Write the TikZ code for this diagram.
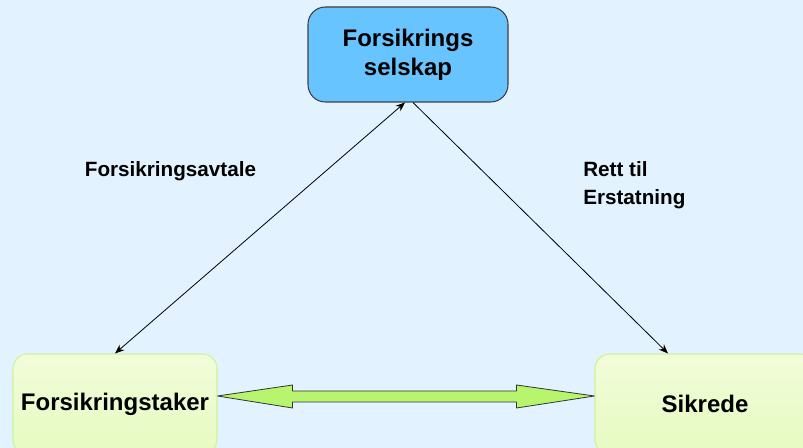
\documentclass[tikz,border=0pt]{standalone}
\usepackage{fontspec}
\setmainfont{Liberation Sans}
\usetikzlibrary{arrows.meta,calc}
\definecolor{bgblue}{RGB}{226,242,254}
\definecolor{boxblue}{RGB}{104,196,255}
\definecolor{boxgreenA}{RGB}{242,252,218}
\definecolor{boxgreenB}{RGB}{230,251,192}
\definecolor{edgegreen}{RGB}{204,244,156}
\definecolor{arrowgreen}{RGB}{184,245,110}
\begin{document}
\begin{tikzpicture}[x=0.75pt, y=-0.75pt, line join=round, >={Stealth[length=7pt,width=5.5pt]}]
\tikzset{
  party/.style={shade, top color=boxgreenA, bottom color=boxgreenB, draw=edgegreen,
    line width=0.8pt, rounded corners=11pt, minimum width=153pt, minimum height=75pt,
    font=\bfseries\fontsize{18}{21.75}\selectfont},
  company/.style={fill=boxblue, draw=black!75, line width=0.8pt, rounded corners=13pt,
    minimum width=150pt, minimum height=71.25pt, align=center,
    font=\bfseries\fontsize{18}{21.75}\selectfont},
  relation/.style={font=\bfseries\fontsize{15.5}{21}\selectfont, align=left, inner sep=0pt}
}
\def\W{803}\def\H{448}
\useasboundingbox (0,0) rectangle (\W,\H);
\clip (0,0) rectangle (\W,\H);
\fill[bgblue] (0,0) rectangle (\W,\H);

% the three parties
\node[company] (insurer) at (408,54.5) {Forsikrings\\selskap};
\node[party] (holder) at (115,404) {Forsikringstaker};
\node[party, minimum width=165pt] (insured) at (705,404) {Sikrede};

% thin connectors up to the company
\draw[<->, line width=0.6pt] (holder.north) -- ([xshift=-2.25pt]insurer.south);
\draw[->, line width=0.6pt] ([xshift=3.75pt]insurer.south) -- ([xshift=-27.75pt]insured.north);

\node[relation, anchor=base] (avtale) at (170.5,177) {Forsikringsavtale};
\node[relation, anchor=north west] (erstatning) at (583,161) {Rett til\\Erstatning};

% fat double arrow between taker and insured
\coordinate (lt) at ([yshift=6pt]holder.east);
\coordinate (rt) at ([yshift=6pt]insured.west);
\filldraw[fill=arrowgreen, draw=black!80, line width=0.6pt]
  (lt) -- ++(75,-11) -- ++(0,6) -- ($(rt)+(-78,-5)$) -- ++(0,-6) -- (rt)
  -- ++(-78,12) -- ++(0,-6) -- ($(lt)+(75,6)$) -- ++(0,6) -- cycle;
\end{tikzpicture}
\end{document}
